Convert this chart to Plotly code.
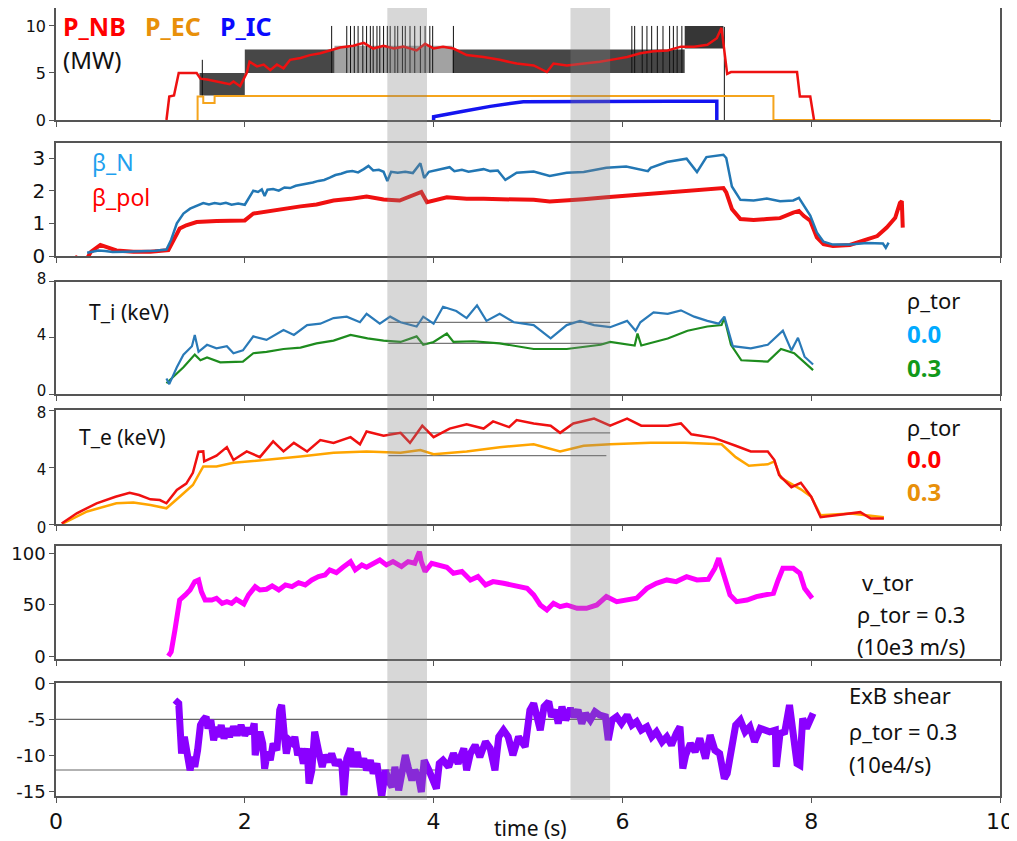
import plotly.graph_objects as go

# ---------------- data ----------------
# Panel 1: heating powers (MW)
nb_t = [1.17,1.20,1.25,1.30,1.49,1.53,1.60,1.70,1.84,1.88,1.95,2.02,2.05,2.13,2.20,2.27,2.34,2.41,2.48,2.59,2.69,2.80,2.90,3.01,3.15,3.26,3.36,3.47,3.58,3.68,3.82,3.91,4.00,4.10,4.21,4.35,4.53,4.70,4.88,5.06,5.20,5.27,5.41,5.59,5.76,5.94,6.05,6.19,6.33,6.48,6.62,6.76,6.90,7.00,7.05,7.11,7.15,7.85,7.88,7.99,8.03]
nb_v = [0,2.5,2.6,5.0,5.0,4.4,4.3,4.1,3.8,4.1,3.6,5.0,6.2,5.7,5.9,5.3,5.9,5.5,6.4,6.6,6.9,7.1,7.4,7.7,7.9,8.2,7.6,7.9,7.6,7.8,7.4,8.1,7.6,7.8,7.6,6.9,6.7,6.4,6.0,5.8,5.1,6.0,5.8,6.0,6.2,6.5,6.7,7.1,7.3,7.4,7.8,7.8,8.0,8.7,9.8,4.9,5.1,5.1,2.5,2.5,0]
ec_t = [1.50,1.50,1.56,1.56,1.68,1.68,7.60,7.60,9.90]
ec_v = [0,2.5,2.5,1.8,1.8,2.55,2.55,0,0]
ic_t = [4.00,4.00,4.30,4.60,4.95,5.50,6.00,6.50,7.00,7.00]
ic_v = [0,0.35,0.9,1.45,1.95,2.0,2.0,2.0,2.0,0]
# raw NB (modulated beams): envelope blocks (t0, t1, low, high) and single spikes
blk_seg = [(1.52, 2.00, 2.6, 5.0), (2.00, 2.95, 5.0, 7.5), (2.95, 4.20, 5.0, 7.9),
           (4.20, 6.66, 5.0, 7.5), (6.66, 7.07, 7.6, 10.0)]
spk_t  = [1.55,2.92,3.08,3.12,3.16,3.20,3.25,3.29,3.33,3.36,3.40,3.43,3.47,3.51,3.54,3.59,3.62,3.67,3.70,3.75,3.80,3.86,3.91,3.96,3.99,4.21,6.10,6.13,6.21,6.26,6.31,6.37,6.43,6.50,6.54,6.58,6.63,7.08]
spk_lo = [2.6,5,5,5,5,5,5,5,5,5,5,5,5,5,5,5,5,5,5,5,5,5,5,5,5,5,5,5,5,5,5,5,5,5,5,5,5,0]
spk_hi = [6.4,10,10,10,10,10,10,10,10,10,10,10,10,10,10,10,10,10,10,10,10,10,10,10,10,10,10,10,10,10,10,10,10,10,10,10,10,9.9]

# Panel 2: beta
bn_t = [0.33,0.40,0.45,0.52,0.60,0.75,0.90,1.05,1.17,1.22,1.28,1.35,1.42,1.50,1.56,1.62,1.68,1.74,1.80,1.86,1.93,2.00,2.05,2.09,2.14,2.18,2.21,2.24,2.30,2.36,2.42,2.48,2.54,2.60,2.66,2.72,2.78,2.84,2.90,2.96,3.02,3.08,3.14,3.20,3.26,3.31,3.36,3.42,3.47,3.51,3.55,3.62,3.70,3.78,3.86,3.90,3.95,4.02,4.10,4.17,4.22,4.30,4.37,4.45,4.53,4.60,4.68,4.76,4.88,5.06,5.23,5.41,5.59,5.83,6.04,6.27,6.30,6.47,6.68,6.79,6.89,7.07,7.10,7.16,7.25,7.39,7.53,7.67,7.81,7.87,7.92,7.99,8.06,8.13,8.23,8.41,8.59,8.76,8.79,8.82]
bn_v = [0.10,0.14,0.17,0.15,0.12,0.13,0.14,0.16,0.20,0.50,1.00,1.30,1.45,1.55,1.62,1.58,1.62,1.59,1.63,1.57,1.61,1.57,1.80,2.00,1.96,2.04,1.84,2.03,2.05,2.00,2.10,2.08,2.15,2.18,2.22,2.25,2.30,2.33,2.40,2.48,2.52,2.58,2.60,2.56,2.66,2.76,2.62,2.64,2.58,2.30,2.58,2.55,2.58,2.54,2.84,2.39,2.58,2.62,2.66,2.72,2.60,2.64,2.58,2.63,2.66,2.60,2.62,2.33,2.55,2.59,2.45,2.55,2.57,2.70,2.74,2.60,2.70,2.88,2.98,2.57,3.03,3.10,3.00,2.13,1.72,1.70,1.76,1.68,1.70,1.78,1.55,1.24,0.72,0.44,0.35,0.35,0.40,0.38,0.25,0.41]
bp_t = [0.20,0.25,0.33,0.37,0.47,0.54,0.64,0.82,1.00,1.19,1.24,1.31,1.38,1.49,1.70,1.88,2.00,2.09,2.23,2.41,2.59,2.76,2.94,3.12,3.29,3.47,3.64,3.87,3.93,4.14,4.35,4.53,4.77,5.06,5.23,5.41,5.59,5.83,6.04,6.47,6.82,7.07,7.10,7.16,7.25,7.39,7.53,7.67,7.81,7.87,7.92,7.99,8.06,8.13,8.23,8.41,8.59,8.70,8.80,8.89,8.94,8.96,8.97]
bp_v = [-0.02,-0.10,-0.07,0.13,0.34,0.27,0.17,0.13,0.13,0.18,0.43,0.84,0.94,1.04,1.07,1.07,1.09,1.30,1.37,1.43,1.52,1.58,1.70,1.75,1.82,1.73,1.70,1.96,1.65,1.80,1.75,1.75,1.73,1.72,1.67,1.72,1.74,1.80,1.85,1.95,2.02,2.08,1.95,1.44,1.13,1.10,1.13,1.16,1.33,1.38,1.23,1.08,0.57,0.36,0.31,0.34,0.51,0.61,0.87,1.17,1.63,1.68,0.87]

# Panel 3: ion temperature (keV)
ti0_t = [1.17,1.20,1.28,1.35,1.44,1.47,1.51,1.60,1.70,1.81,1.88,1.98,2.09,2.23,2.41,2.52,2.66,2.80,2.94,3.08,3.22,3.29,3.43,3.54,3.65,3.82,3.89,4.00,4.10,4.24,4.35,4.46,4.56,4.70,4.85,5.06,5.24,5.41,5.55,5.70,5.87,6.05,6.14,6.19,6.33,6.48,6.62,6.76,6.90,7.02,7.08,7.17,7.36,7.54,7.70,7.79,7.86,7.93,8.02]
ti0_v = [1.1,0.7,1.9,2.8,3.4,4.2,3.0,3.5,3.25,3.4,2.9,3.1,4.1,3.85,4.55,4.2,4.9,5.0,5.4,5.5,5.1,5.7,5.0,5.5,5.1,4.8,5.5,5.0,6.2,5.9,5.4,6.3,5.2,5.7,5.1,4.9,3.95,4.9,5.2,4.9,4.75,5.2,4.5,5.1,5.8,5.7,5.95,5.5,5.2,5.0,5.5,3.4,3.25,3.5,4.5,3.1,4.0,2.65,2.1]
ti3_t = [1.17,1.24,1.35,1.47,1.53,1.60,1.74,1.98,2.09,2.23,2.41,2.59,2.76,2.94,3.12,3.30,3.47,3.65,3.82,3.89,4.00,4.14,4.21,4.42,4.70,5.06,5.41,5.77,5.87,6.13,6.16,6.20,6.48,6.69,6.90,7.05,7.08,7.15,7.26,7.54,7.68,7.82,7.93,8.02]
ti3_v = [0.76,1.2,1.9,2.8,2.4,2.6,2.25,2.3,2.9,3.0,3.2,3.3,3.6,3.8,4.2,3.95,3.8,3.7,4.1,3.5,3.7,4.3,3.7,3.75,3.6,3.2,3.2,3.5,3.7,3.45,4.3,3.45,3.95,4.5,4.8,4.9,5.4,3.5,2.4,2.3,3.2,2.9,2.2,1.7]

# Panel 4: electron temperature (keV)
te0_t = [0.06,0.22,0.43,0.63,0.78,0.88,1.00,1.10,1.17,1.28,1.38,1.45,1.51,1.56,1.57,1.70,1.81,1.88,2.02,2.16,2.30,2.41,2.52,2.66,2.80,2.94,3.12,3.22,3.29,3.47,3.65,3.75,3.88,4.00,4.17,4.35,4.53,4.63,4.80,4.88,5.06,5.24,5.34,5.48,5.70,5.87,6.05,6.20,6.48,6.62,6.73,6.97,7.20,7.36,7.54,7.61,7.66,7.79,7.89,8.00,8.10,8.24,8.52,8.63,8.77]
te0_v = [0.05,0.77,1.47,1.93,2.2,2.05,1.75,1.7,1.47,2.4,2.85,3.6,5.08,5.1,4.4,4.8,5.4,4.5,5.1,4.7,5.8,5.1,5.7,5.1,5.9,5.7,6.1,5.6,6.5,6.2,6.4,5.7,6.9,6.1,6.7,7.0,6.7,7.2,6.8,7.3,7.06,6.9,6.4,7.06,7.4,6.9,7.4,6.9,6.9,7.06,6.3,6.05,5.5,5.1,5.1,4.5,3.45,2.6,2.9,1.93,0.5,0.63,0.85,0.4,0.4]
te3_t = [0.07,0.33,0.64,0.82,1.00,1.17,1.31,1.45,1.56,1.70,1.88,2.05,2.23,2.59,2.94,3.29,3.65,3.86,4.00,4.35,4.70,5.06,5.34,5.59,5.87,6.30,6.66,7.05,7.20,7.34,7.54,7.61,7.68,7.89,8.00,8.10,8.42,8.60,8.77]
te3_v = [0.05,0.9,1.47,1.52,1.35,1.12,1.93,2.75,4.05,4.05,4.3,4.4,4.5,4.75,5.0,5.1,5.0,5.2,4.9,5.1,5.4,5.6,5.1,5.5,5.6,5.7,5.7,5.6,4.7,4.1,4.2,4.4,3.25,2.45,1.93,0.63,0.75,0.63,0.5]

# Panel 5: toroidal rotation (10e3 m/s)
vt_t = [1.19,1.22,1.26,1.31,1.37,1.42,1.47,1.51,1.54,1.58,1.65,1.70,1.76,1.81,1.86,1.91,1.99,2.04,2.11,2.16,2.23,2.29,2.36,2.43,2.50,2.57,2.64,2.71,2.78,2.85,2.90,2.97,3.04,3.12,3.17,3.24,3.29,3.36,3.43,3.50,3.57,3.66,3.73,3.80,3.85,3.87,3.91,3.98,4.07,4.14,4.21,4.30,4.39,4.47,4.55,4.63,4.74,4.84,4.99,5.06,5.13,5.20,5.27,5.34,5.41,5.52,5.62,5.73,5.83,5.94,6.05,6.15,6.26,6.36,6.47,6.57,6.68,6.79,6.91,6.98,7.02,7.07,7.14,7.21,7.32,7.42,7.53,7.60,7.65,7.70,7.81,7.88,7.93,8.01]
vt_v = [0.6,4.8,25.8,54.8,59.7,64.5,72.6,74.2,62.9,54.8,54.8,56.5,51.6,53.2,51.6,55.5,51.0,59.7,67.7,64.5,65.2,68.4,64.5,69.4,67.7,71.6,69.4,74.2,77.4,79.0,83.9,81.3,86.5,91.9,83.9,88.7,86.5,90.3,93.5,88.7,91.9,87.1,91.9,90.3,101.6,91.9,82.3,90.3,88.7,86.5,80.6,82.3,74.2,77.4,69.4,72.6,71.0,69.4,66.1,59.7,50.0,45.2,51.6,48.4,50.0,46.8,46.8,50.0,58.1,53.2,54.8,56.5,66.1,71.0,74.2,72.6,77.4,74.2,74.8,85.5,95.2,80.6,59.7,53.2,54.8,58.1,59.7,61.3,74.2,85.5,85.5,80.6,66.1,56.5]

# Panel 6: ExB shear (10e4/s)
eb_t = [1.26,1.30,1.31,1.33,1.36,1.38,1.42,1.45,1.47,1.50,1.53,1.56,1.59,1.61,1.64,1.67,1.70,1.72,1.75,1.78,1.81,1.84,1.88,1.92,1.96,2.00,2.04,2.07,2.10,2.11,2.13,2.16,2.19,2.21,2.24,2.27,2.30,2.34,2.37,2.39,2.42,2.44,2.47,2.51,2.53,2.56,2.59,2.62,2.66,2.68,2.71,2.74,2.78,2.82,2.85,2.89,2.92,2.96,2.99,3.03,3.05,3.08,3.12,3.15,3.19,3.22,3.26,3.29,3.33,3.36,3.40,3.43,3.45,3.49,3.52,3.56,3.59,3.63,3.66,3.70,3.73,3.77,3.80,3.84,3.87,3.90,3.95,3.99,4.03,4.06,4.10,4.16,4.21,4.26,4.32,4.35,4.39,4.44,4.49,4.55,4.60,4.65,4.69,4.74,4.79,4.84,4.90,4.97,5.02,5.06,5.09,5.13,5.17,5.22,5.25,5.29,5.32,5.36,5.40,5.45,5.49,5.53,5.57,5.61,5.66,5.71,5.76,5.82,5.85,5.89,5.94,5.99,6.05,6.10,6.15,6.20,6.26,6.31,6.36,6.42,6.47,6.52,6.57,6.61,6.64,6.67,6.72,6.77,6.82,6.88,6.93,6.98,7.03,7.08,7.11,7.16,7.20,7.25,7.30,7.35,7.40,7.46,7.51,7.56,7.62,7.63,7.67,7.72,7.77,7.80,7.83,7.85,7.88,7.91,7.95,7.98,8.02]
eb_v = [-2.31,-2.78,-5.09,-9.72,-7.41,-9.26,-12.04,-10.19,-11.57,-9.26,-5.79,-5.09,-4.63,-6.25,-5.09,-7.87,-6.02,-7.41,-5.79,-7.64,-6.25,-7.41,-6.02,-7.18,-5.79,-7.18,-6.25,-6.94,-5.56,-9.95,-8.10,-6.71,-8.33,-11.81,-9.49,-10.65,-8.33,-9.26,-3.70,-3.01,-7.41,-9.72,-7.87,-8.33,-7.41,-9.95,-9.03,-11.11,-9.03,-13.89,-12.04,-6.71,-9.26,-11.57,-9.95,-10.88,-9.72,-11.34,-10.65,-11.57,-15.51,-10.42,-9.03,-11.57,-9.49,-11.57,-10.42,-12.04,-10.65,-12.50,-11.11,-13.43,-15.74,-12.04,-13.43,-14.35,-11.57,-14.81,-12.04,-9.95,-11.57,-13.43,-12.04,-12.96,-15.05,-10.65,-12.04,-13.43,-14.58,-11.11,-10.65,-11.57,-9.72,-11.11,-9.03,-12.04,-9.72,-8.56,-10.19,-8.10,-9.03,-12.04,-7.41,-6.48,-7.41,-9.95,-7.41,-8.80,-3.70,-2.78,-4.63,-6.48,-3.24,-2.55,-4.63,-3.70,-5.56,-3.24,-5.09,-3.47,-4.63,-3.70,-5.56,-4.17,-5.09,-3.94,-4.40,-4.63,-7.87,-5.09,-4.63,-5.56,-4.40,-5.79,-5.32,-6.48,-6.02,-7.41,-6.71,-8.10,-7.41,-8.56,-6.94,-6.02,-11.81,-9.95,-8.33,-9.49,-7.64,-10.42,-7.18,-9.26,-9.72,-13.19,-12.50,-8.80,-5.79,-5.09,-6.71,-6.02,-8.10,-6.25,-6.48,-6.71,-6.48,-11.57,-6.94,-6.71,-3.01,-5.79,-9.26,-11.11,-11.34,-4.86,-6.25,-5.56,-4.17]

# analysis windows and reference levels
win_t = [(3.51, 3.93), (5.45, 5.87)]
ti_ref = [(5.1, 3.52, 5.87), (3.6, 3.52, 5.83)]
te_ref = [(6.4, 3.52, 5.87), (4.8, 3.52, 5.83)]
eb_ref = [(-5.0, 0.0, 5.9), (-12.0, 0.0, 4.05)]

# ---------------- figure ----------------
fig = go.Figure()

def add(x, y, i, color, width, **kw):
    fig.add_trace(go.Scatter(x=x, y=y, mode="lines", line=dict(color=color, width=width),
                             xaxis="x" if i == 1 else f"x{i}", yaxis="y" if i == 1 else f"y{i}",
                             showlegend=False, hoverinfo="skip", **kw))

# panel 1
blk_alpha = [0.75, 0.75, 0.38, 0.75, 0.82]
for (t0, t1, lo, hi), a in zip(blk_seg, blk_alpha):
    add([t0, t1, t1, t0, t0], [lo, lo, hi, hi, lo], 1, "rgba(0,0,0,0)", 0,
        fill="toself", fillcolor=f"rgba(10,10,10,{a})")
sx, sy = [], []
for t, lo, hi in zip(spk_t, spk_lo, spk_hi):
    sx += [t, t, None]
    sy += [lo, hi, None]
add(sx, sy, 1, "#111111", 1)
add(ec_t, ec_v, 1, "#F5A41C", 2)
add(ic_t, ic_v, 1, "#1414F0", 3.5)
add(nb_t, nb_v, 1, "#EE1111", 2.5)

# panel 2
add(bp_t, bp_v, 2, "#F01010", 4)
add(bn_t, bn_v, 2, "#2277B4", 2.5)

# panel 3
for v, a, b in ti_ref:
    add([a, b], [v, v], 3, "#777777", 1.2)
add(ti3_t, ti3_v, 3, "#1E8C1E", 2.2)
add(ti0_t, ti0_v, 3, "#2A7AB8", 2.2)

# panel 4
for v, a, b in te_ref:
    add([a, b], [v, v], 4, "#777777", 1.2)
add(te3_t, te3_v, 4, "#FFA500", 2.5)
add(te0_t, te0_v, 4, "#F01010", 2.5)

# panel 5
add(vt_t, vt_v, 5, "#FF00FF", 5)

# panel 6
for v, a, b in eb_ref:
    add([a, b], [v, v], 6, "#666666", 1.2)
add(eb_t, eb_v, 6, "#8A00FF", 7)

# ---- geometry (page has an 8 px body offset) ----
OFF = 8
FIG_W, FIG_H = 1017 - OFF, 841 - OFF
TOP_PX, BOT_PX = 8, 796       # screen rows spanned by the stacked panels
H = BOT_PX - TOP_PX

def dom(top_px, bot_px):
    return [max(0.0, (BOT_PX - bot_px) / H), min(1.0, (BOT_PX - top_px) / H)]

panels = [
    dict(dom=dom(8, 120), rng=[0, 11.91], ticks=[0, 5, 10], fs=16, shift=0),
    dict(dom=dom(142.7, 256), rng=[0, 3.47], ticks=[0, 1, 2, 3], fs=20, shift=0),
    dict(dom=dom(281.5, 394), rng=[0, 8], ticks=[0, 4, 8], fs=15, shift=-3),
    dict(dom=dom(410, 524.3), rng=[0, 8], ticks=[0, 4, 8], fs=15, shift=3),
    dict(dom=dom(546, 659.3), rng=[-2.5, 107], ticks=[0, 50, 100], fs=18, shift=0),
    dict(dom=dom(683.3, 796), rng=[-15.6, 0], ticks=[0, -5, -10, -15], fs=18, shift=0),
]

lay = {}
axline = dict(showline=True, mirror=True, linecolor="#555555", linewidth=1.5,
              showgrid=False, zeroline=False, ticks="outside", ticklen=5,
              tickcolor="#555555", tickwidth=1.2, automargin=False)
for i, p in enumerate(panels, start=1):
    xk = "xaxis" if i == 1 else f"xaxis{i}"
    yk = "yaxis" if i == 1 else f"yaxis{i}"
    lay[xk] = dict(domain=[0, 1], range=[0, 10], anchor="y" if i == 1 else f"y{i}",
                   tickvals=[0, 2, 4, 6, 8, 10], showticklabels=(i == 6),
                   tickfont=dict(family="DejaVu Sans", size=22, color="#111"), **axline)
    if i > 1:
        lay[xk]["matches"] = "x"
    lay[yk] = dict(domain=p["dom"], range=p["rng"], anchor="x" if i == 1 else f"x{i}",
                   tickvals=p["ticks"], tickfont=dict(family="DejaVu Sans", size=p["fs"], color="#111"),
                   ticklabelshift=p["shift"], **axline)
# navy zero baseline in the power panel
lay["yaxis"].update(zeroline=True, zerolinecolor="#101070", zerolinewidth=2)
# ExB shear ticks written with a plain hyphen, as in the original
lay["yaxis6"].update(ticktext=["0", "-5", "-10", "-15"])

fig.update_layout(width=FIG_W, height=FIG_H,
                  margin=dict(l=56 - OFF, r=FIG_W - (1000 - OFF), t=TOP_PX - OFF, b=FIG_H - (BOT_PX - OFF)),
                  paper_bgcolor="white", plot_bgcolor="white", **lay)

# analysis windows
for a, b in win_t:
    fig.add_shape(type="rect", xref="x", yref="paper", x0=a, x1=b, y0=-0.005, y1=1.006,
                  fillcolor="rgba(130,130,130,0.32)", line=dict(width=0), layer="above")

def txt(text, x, y, i, color="#111", size=20, bold=False):
    if bold:
        text = f"<b>{text}</b>"
    fig.add_annotation(text=text, x=x, y=y, xref="x" if i == 1 else f"x{i}",
                       yref="y" if i == 1 else f"y{i}", xanchor="left", yanchor="middle",
                       showarrow=False, font=dict(family="Noto Sans", size=size, color=color))

txt("P_NB", 0.05, 10.0, 1, "#FF0000", 25, True)
txt("P_EC", 0.92, 10.0, 1, "#E8900A", 25, True)
txt("P_IC", 1.72, 10.0, 1, "#0A0AFF", 25, True)
txt("(MW)", 0.05, 6.4, 1, "#111", 24)
txt("β_N", 0.36, 2.88, 2, "#1EA0EE", 23)
txt("β_pol", 0.36, 1.8, 2, "#FF0000", 23)
txt("T_i (keV)", 0.33, 5.8, 3, "#111", 21)
txt("ρ_tor", 8.99, 6.7, 3, "#111", 22)
txt("0.0", 8.99, 4.3, 3, "#00AAFF", 24, True)
txt("0.3", 8.99, 1.9, 3, "#11991A", 24, True)
txt("T_e (keV)", 0.22, 6.1, 4, "#111", 21)
txt("ρ_tor", 8.99, 6.8, 4, "#111", 22)
txt("0.0", 8.99, 4.6, 4, "#FF0000", 24, True)
txt("0.3", 8.99, 2.3, 4, "#E8900A", 24, True)
txt("v_tor", 8.52, 72, 5, "#111", 22)
txt("ρ_tor = 0.3", 8.46, 41, 5, "#111", 22)
txt("(10e3 m/s)", 8.46, 10, 5, "#111", 22)
txt("ExB shear", 8.38, -1.6, 6, "#111", 22)
txt("ρ_tor = 0.3", 8.38, -6.6, 6, "#111", 22)
txt("(10e4/s)", 8.38, -11.2, 6, "#111", 22)

fig.add_annotation(text="time (s)", x=5.03, y=(BOT_PX - 828) / H, xref="x6", yref="paper",
                   xanchor="center", yanchor="middle", showarrow=False,
                   font=dict(family="Noto Sans", size=21, color="#111"))

fig.write_html("out.html")
